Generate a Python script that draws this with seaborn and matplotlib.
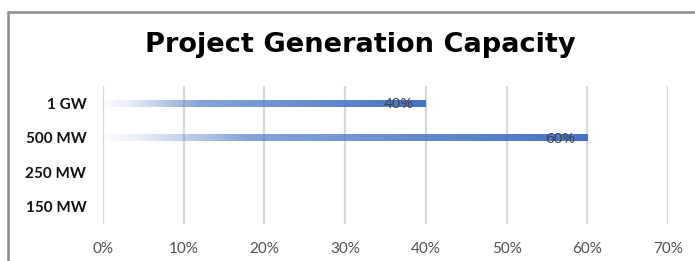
import numpy as np
import pandas as pd
import matplotlib
matplotlib.use("Agg")
import matplotlib.pyplot as plt
import seaborn as sns
from matplotlib.colors import to_rgb
from matplotlib.lines import Line2D

categories = ["1 GW", "500 MW", "250 MW", "150 MW"]
values = [0.40, 0.60, 0.0, 0.0]
tick_values = [0.0, 0.1, 0.2, 0.3, 0.4, 0.5, 0.6, 0.7]
tick_labels = ["0%", "10%", "20%", "30%", "40%", "50%", "60%", "70%"]
title = "Project Generation Capacity"

BLUE = "#4472C4"

sns.set_theme(style="white")
plt.rcParams["font.family"] = ["Lato", "DejaVu Sans"]

W = 695.0
H = 261.0
fig = plt.figure(figsize=(6.95, 2.61), dpi=100)
ax = fig.add_axes([103 / W, 1 - 224 / H, (668 - 103) / W, (224 - 86) / H])

df = pd.DataFrame({"cat": categories, "val": values})
sns.barplot(data=df, x="val", y="cat", orient="h", color=BLUE, width=0.2,
            ax=ax, saturation=1, zorder=3)

ax.set_xlim(0, 0.7)
ax.set_ylim(3.5, -0.5)
ax.set_xticks(tick_values)
ax.set_xticklabels(tick_labels, color="#505050", fontsize=11)
ax.tick_params(axis="x", length=0, pad=13)
ax.tick_params(axis="y", length=0, pad=12)
for lab in ax.get_yticklabels():
    lab.set_fontweight("bold")
    lab.set_fontsize(11)
    lab.set_color("#111111")
ax.set_xlabel("")
ax.set_ylabel("")
for s in ax.spines.values():
    s.set_visible(False)
for x in tick_values:
    ax.axvline(x, color="#D9D9D9", lw=1.6, zorder=1)

# gradient fill for bars
rgb = np.array(to_rgb(BLUE))
n = 256
t = np.linspace(0, 1, n)
alpha = np.interp(t, [0, 0.08, 0.3, 1.0], [0.02, 0.13, 0.65, 1.0])
img = np.zeros((1, n, 4))
img[0, :, :3] = rgb
img[0, :, 3] = alpha
for p, v in zip(ax.patches, values):
    if v <= 0:
        p.set_visible(False)
        continue
    x0, y0 = p.get_x(), p.get_y()
    w, h = p.get_width(), p.get_height()
    p.set_facecolor("none")
    p.set_edgecolor("none")
    im = ax.imshow(img, extent=[x0, x0 + w, y0 + h, y0], aspect="auto",
                   zorder=3, interpolation="bilinear")
    im.set_clip_path(p)

ax.set_xlim(0, 0.7)
ax.set_ylim(3.5, -0.5)

for i, v in enumerate(values):
    if v > 0:
        ax.annotate(f"{v:.0%}", (v, i), xytext=(-9, -1), textcoords="offset points",
                    ha="right", va="center", fontsize=11, color="#404040",
                    family=["Open Sans", "DejaVu Sans"], zorder=5)

fig.text((143 + 577) / 2 / W, 1 - 52.5 / H, title, ha="center", va="baseline",
         fontsize=19.6, fontweight="bold", color="black",
         family=["DejaVu Sans"])

# outer frame lines (top and left)
fig.add_artist(Line2D([8 / W, 1], [1 - 12 / H, 1 - 12 / H],
                      transform=fig.transFigure, color="#8C8C8C", lw=1.8))
fig.add_artist(Line2D([8 / W, 8 / W], [0, 1 - 12 / H],
                      transform=fig.transFigure, color="#8C8C8C", lw=1.8))

fig.savefig("out.png", dpi=100)
